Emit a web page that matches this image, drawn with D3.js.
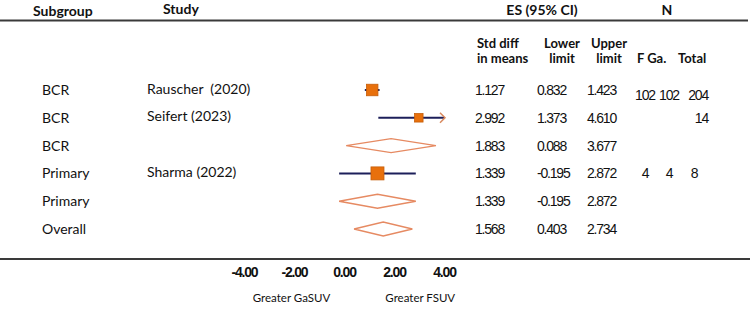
<!DOCTYPE html>
<html>
<head>
<meta charset="utf-8">
<script src="https://cdn.jsdelivr.net/npm/d3@7"></script>
<style>
  body { margin: 0; background: white; }
  .hdr { font-family: Lato, "Open Sans", sans-serif; font-weight: bold; font-size: 14px; fill: #111; }
  .colhdr { font-family: Lato, "Open Sans", sans-serif; font-weight: bold; font-size: 13px; fill: #111; }
  .lbl { font-family: Lato, "Open Sans", sans-serif; font-size: 14px; fill: #111; white-space: pre; }
  .num { font-family: "Liberation Sans", Arial, sans-serif; font-size: 14px; letter-spacing: -1.2px; fill: #111; }
  .tick text { font-family: "Liberation Sans", Arial, sans-serif; font-weight: bold; font-size: 14px; letter-spacing: -1.2px; fill: #111; }
</style>
</head>
<body>
<div id="forest"></div>
<script>
// rows of the forest plot
var subgroups = ["BCR", "BCR", "BCR", "Primary", "Primary", "Overall"];
var studies = ["Rauscher  (2020)", "Seifert (2023)", "", "Sharma (2022)", "", ""];
var kinds = ["study", "study", "pooled", "study", "pooled", "pooled"];
var es = [1.127, 2.992, 1.883, 1.339, 1.339, 1.568];
var lower = [0.832, 1.373, 0.088, -0.195, -0.195, 0.403];
var upper = [1.423, 4.610, 3.677, 2.872, 2.872, 2.734];
var weights = [55, 30, null, 70, null, null];
var nF = ["102", "", "", "4", "", ""];
var nGa = ["102", "", "", "4", "", ""];
var nTotal = ["204", "14", "", "8", "", ""];
var tickVals = [-4, -2, 0, 2, 4];
var leftLabel = "Greater GaSUV";
var rightLabel = "Greater FSUV";

var width = 750, height = 313;

var svg = d3.select("#forest")
  .append("svg")
  .attr("width", width)
  .attr("height", height)
  .style("background", "white");

var xscale = d3.scaleLinear()
  .domain([-4, 4])
  .range([244, 444]);

var yscale = d3.scalePoint()
  .domain(d3.range(es.length))
  .range([90, 229]);

var sizeScale = d3.scaleSqrt()
  .domain([0, d3.max(weights)])
  .range([0, 13]);

// header + rules
svg.append("line")
  .attr("x1", 0).attr("x2", 748)
  .attr("y1", 20.5).attr("y2", 20.5)
  .attr("stroke", "#3a3a3a").attr("stroke-width", 2.2);

svg.append("line")
  .attr("x1", 0).attr("x2", 750)
  .attr("y1", 259).attr("y2", 259)
  .attr("stroke", "#3a3a3a").attr("stroke-width", 2.2);

svg.append("text").attr("class", "hdr").attr("x", 33).attr("y", 16).text("Subgroup");
svg.append("text").attr("class", "hdr").attr("x", 163).attr("y", 14).text("Study");
svg.append("text").attr("class", "hdr").attr("x", 542).attr("y", 15).attr("text-anchor", "middle").text("ES (95% CI)");
svg.append("text").attr("class", "hdr").attr("x", 667).attr("y", 15).attr("text-anchor", "middle").text("N");

var colHead = [
  { x: 477, anchor: "start", lines: ["Std diff", "in means"] },
  { x: 562, anchor: "middle", lines: ["Lower", "limit"] },
  { x: 609, anchor: "middle", lines: ["Upper", "limit"] },
  { x: 637, anchor: "start", lines: ["", "F Ga."] },
  { x: 678, anchor: "start", lines: ["", "Total"] }
];
colHead.forEach(function (c) {
  c.lines.forEach(function (t, i) {
    svg.append("text")
      .attr("class", "colhdr")
      .attr("x", c.x)
      .attr("y", 48 + i * 15)
      .attr("text-anchor", c.anchor)
      .text(t);
  });
});

// row text
var rows = svg.append("g").selectAll("g")
  .data(es.map(function (d, i) { return i; }))
  .enter().append("g")
  .attr("transform", function (i) { return "translate(0," + yscale(i) + ")"; });

rows.append("text").attr("class", "lbl").attr("x", 42).attr("dy", "0.35em").text(function (i) { return subgroups[i]; });
rows.append("text").attr("class", "lbl").attr("x", 147).attr("dy", "0.25em").text(function (i) { return studies[i]; });
rows.append("text").attr("class", "num").attr("x", 475).attr("dy", "0.35em").text(function (i) { return es[i].toFixed(3); });
rows.append("text").attr("class", "num").attr("x", 537).attr("dy", "0.35em").text(function (i) { return lower[i].toFixed(3); });
rows.append("text").attr("class", "num").attr("x", 587).attr("dy", "0.35em").text(function (i) { return upper[i].toFixed(3); });
rows.append("text").attr("class", "num").attr("x", 645).attr("dy", function (i) { return i == 0 ? "0.7em" : "0.35em"; })
  .attr("text-anchor", "middle").text(function (i) { return nF[i]; });
rows.append("text").attr("class", "num").attr("x", 669).attr("dy", function (i) { return i == 0 ? "0.7em" : "0.35em"; })
  .attr("text-anchor", "middle").text(function (i) { return nGa[i]; });
rows.append("text").attr("class", "num").attr("x", 708).attr("dy", function (i) { return i == 0 ? "0.7em" : "0.35em"; })
  .attr("text-anchor", function (i) { return i == 3 ? "middle" : "end"; })
  .attr("dx", function (i) { return i == 3 ? -14 : 0; })
  .text(function (i) { return nTotal[i]; });

// study CI lines + squares
var studyIdx = d3.range(es.length).filter(function (i) { return kinds[i] == "study"; });
var pooledIdx = d3.range(es.length).filter(function (i) { return kinds[i] == "pooled"; });
var xmax = xscale.domain()[1];

svg.append("g").selectAll("line")
  .data(studyIdx)
  .enter().append("line")
  .attr("x1", function (i) { return xscale(lower[i]); })
  .attr("x2", function (i) { return xscale(Math.min(upper[i], xmax)); })
  .attr("y1", function (i) { return yscale(i); })
  .attr("y2", function (i) { return yscale(i); })
  .attr("stroke", "#1c1f5a")
  .attr("stroke-width", 2);

// arrow where CI runs past the axis
svg.append("g").selectAll("path")
  .data(studyIdx.filter(function (i) { return upper[i] > xmax; }))
  .enter().append("path")
  .attr("d", function (i) {
    var x = xscale(xmax) + 1, y = yscale(i);
    return "M" + (x - 5) + "," + (y - 5) + "L" + x + "," + y + "L" + (x - 5) + "," + (y + 5);
  })
  .attr("fill", "none")
  .attr("stroke", "#d98a5f")
  .attr("stroke-width", 1.5);

svg.append("g").selectAll("rect")
  .data(studyIdx)
  .enter().append("rect")
  .attr("x", function (i) { return xscale(es[i]) - sizeScale(weights[i]) / 2; })
  .attr("y", function (i) { return yscale(i) - sizeScale(weights[i]) / 2; })
  .attr("width", function (i) { return sizeScale(weights[i]); })
  .attr("height", function (i) { return sizeScale(weights[i]); })
  .attr("fill", "#e8700c")
  .attr("stroke", "#c65e0a")
  .attr("stroke-width", 0.8);

// pooled diamonds
svg.append("g").selectAll("path")
  .data(pooledIdx)
  .enter().append("path")
  .attr("d", function (i) {
    var y = yscale(i), h = 7;
    return "M" + xscale(lower[i]) + "," + y +
      "L" + xscale(es[i]) + "," + (y - h) +
      "L" + xscale(upper[i]) + "," + y +
      "L" + xscale(es[i]) + "," + (y + h) + "Z";
  })
  .attr("fill", "white")
  .attr("stroke", "#e68a62")
  .attr("stroke-width", 1.4);

// x axis (labels only)
var fmtTick = function (d) { return d3.format(".2f")(d).replace("\u2212", "-"); };
var xAxis = svg.append("g")
  .attr("class", "xAxis")
  .attr("transform", "translate(0,262)")
  .call(d3.axisBottom(xscale).tickValues(tickVals).tickFormat(fmtTick).tickSize(0));
xAxis.select(".domain").remove();
xAxis.selectAll("text").attr("dy", "0.71em").attr("y", 5);

svg.append("text")
  .attr("class", "lbl")
  .style("font-size", "11.5px")
  .attr("x", xscale(-2.1))
  .attr("y", 302)
  .attr("text-anchor", "middle")
  .text(leftLabel);

svg.append("text")
  .attr("class", "lbl")
  .style("font-size", "11.5px")
  .attr("x", xscale(3.05))
  .attr("y", 302)
  .attr("text-anchor", "middle")
  .text(rightLabel);
</script>
</body>
</html>
